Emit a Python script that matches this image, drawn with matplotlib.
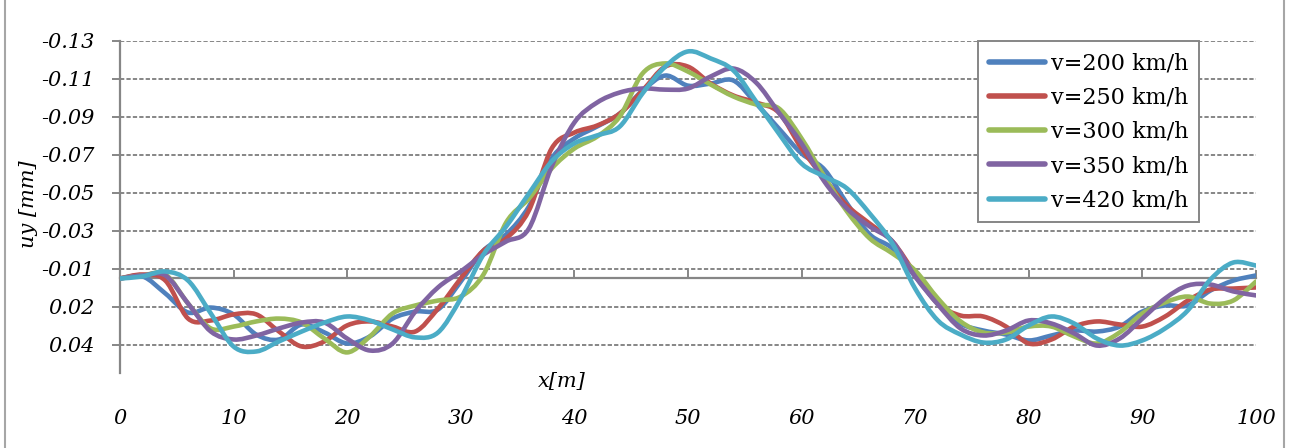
import numpy as np
import matplotlib
matplotlib.use("Agg")
import matplotlib.pyplot as plt
from matplotlib.lines import Line2D
from matplotlib.path import Path
from matplotlib.patches import PathPatch

# x positions along the track [m]
x = np.arange(0, 101, 2)

# vertical displacement uy [mm]
uy_200 = [0.0, -0.0011, 0.0079, 0.0179, 0.0153, 0.0189, 0.0295, 0.0321, 0.0242, 0.0284,
          0.0342, 0.0305, 0.0211, 0.0174, 0.0163, 0.0016, -0.0147, -0.0232, -0.0379, -0.0632,
          -0.0737, -0.0800, -0.0868, -0.0989, -0.1068, -0.1015, -0.1026, -0.1042, -0.0921, -0.0789,
          -0.0658, -0.0574, -0.0395, -0.0232, -0.0158, -0.0011, 0.0132, 0.0237, 0.0274, 0.0295,
          0.0326, 0.0300, 0.0274, 0.0279, 0.0253, 0.0174, 0.0142, 0.0142, 0.0063, 0.0011, -0.0016]
uy_250 = [0.0, -0.0021, 0.0011, 0.0211, 0.0221, 0.0189, 0.0189, 0.0279, 0.0358, 0.0331,
          0.0247, 0.0226, 0.0253, 0.0279, 0.0158, 0.0, -0.0147, -0.0211, -0.0358, -0.0684,
          -0.0768, -0.0805, -0.0868, -0.0989, -0.1115, -0.1115, -0.1026, -0.0963, -0.0926, -0.0873,
          -0.0684, -0.0526, -0.0384, -0.0289, -0.0195, -0.0026, 0.0132, 0.0195, 0.0200, 0.0253,
          0.0342, 0.0321, 0.0253, 0.0226, 0.0242, 0.0253, 0.0200, 0.0116, 0.0058, 0.0053, 0.0047]
uy_300 = [0.0, -0.0016, -0.0021, 0.0132, 0.0263, 0.0253, 0.0226, 0.0211, 0.0232, 0.0316,
          0.0389, 0.0305, 0.0184, 0.0142, 0.0116, 0.0095, -0.0021, -0.0295, -0.0421, -0.0579,
          -0.0684, -0.0747, -0.0853, -0.1079, -0.1132, -0.1089, -0.1021, -0.0958, -0.0916, -0.0895,
          -0.0737, -0.0537, -0.0353, -0.0211, -0.0132, -0.0042, 0.0105, 0.0226, 0.0284, 0.0284,
          0.0253, 0.0253, 0.0305, 0.0342, 0.0284, 0.0184, 0.0126, 0.0095, 0.0132, 0.0116, 0.0016]
uy_350 = [0.0, -0.0016, -0.0016, 0.0132, 0.0279, 0.0321, 0.0300, 0.0263, 0.0232, 0.0232,
          0.0316, 0.0379, 0.0342, 0.0174, 0.0047, -0.0037, -0.0126, -0.0195, -0.0263, -0.0589,
          -0.0821, -0.0926, -0.0979, -0.1000, -0.0994, -0.1000, -0.1063, -0.1105, -0.1031, -0.0873,
          -0.0711, -0.0511, -0.0368, -0.0274, -0.0195, -0.0011, 0.0137, 0.0263, 0.0300, 0.0274,
          0.0221, 0.0237, 0.0289, 0.0353, 0.0316, 0.0211, 0.0105, 0.0037, 0.0032, 0.0068, 0.0089]
uy_420 = [0.0, -0.0011, -0.0037, 0.0011, 0.0184, 0.0358, 0.0384, 0.0331, 0.0279, 0.0232,
          0.0200, 0.0221, 0.0268, 0.0310, 0.0284, 0.0105, -0.0126, -0.0274, -0.0447, -0.0616,
          -0.0711, -0.0753, -0.0800, -0.0974, -0.1115, -0.1195, -0.1158, -0.1095, -0.0931, -0.0763,
          -0.0605, -0.0537, -0.0474, -0.0342, -0.0184, 0.0053, 0.0221, 0.0295, 0.0337, 0.0321,
          0.0247, 0.0200, 0.0237, 0.0316, 0.0353, 0.0326, 0.0263, 0.0168, 0.0005, -0.0084, -0.0068]

series = [uy_200, uy_250, uy_300, uy_350, uy_420]
labels = ["v=200 km/h", "v=250 km/h", "v=300 km/h", "v=350 km/h", "v=420 km/h"]
colors = ["#4F81BD", "#C0504D", "#9BBB59", "#8064A2", "#4BACC6"]

y_ticks = [-0.125, -0.105, -0.085, -0.065, -0.045, -0.025, -0.005, 0.015, 0.035]
y_ticklabels = ["-0.13", "-0.11", "-0.09", "-0.07", "-0.05", "-0.03", "-0.01", "0.02", "0.04"]
x_ticks = [0, 10, 20, 30, 40, 50, 60, 70, 80, 90, 100]

grey = "#868686"
plt.rcParams["font.family"] = "DejaVu Serif"


def smooth_path(xs, ys):
    # Excel style smoothed line: bezier segments through the data points
    p = np.column_stack([xs, ys]).astype(float)
    pp = np.vstack([p[0], p, p[-1]])
    verts = [p[0]]
    codes = [Path.MOVETO]
    for i in range(len(p) - 1):
        c1 = pp[i + 1] + (pp[i + 2] - pp[i]) / 6
        c2 = pp[i + 2] - (pp[i + 3] - pp[i + 1]) / 6
        verts += [c1, c2, p[i + 1]]
        codes += [Path.CURVE4] * 3
    return Path(verts, codes)


fig = plt.figure(figsize=(12.94, 4.48), dpi=100)
ax = fig.add_axes([0.0927, 0.1663, 0.8779, 0.7422])

# dashed horizontal gridlines
for yt in y_ticks:
    ax.axhline(yt, color=grey, lw=1.4, ls=(0, (2.2, 1.1)), zorder=1)

handles = []
for vals, lab, col in zip(series, labels, colors):
    ax.add_patch(PathPatch(smooth_path(x, vals), facecolor="none", edgecolor=col,
                           lw=3.3, joinstyle="round", capstyle="round", zorder=3))
    handles.append(Line2D([], [], color=col, lw=4, solid_capstyle="round", label=lab))

ax.set_xlim(0, 100)
ax.set_ylim(0.05, -0.125)

# axes styling
for s in ["top", "right"]:
    ax.spines[s].set_visible(False)
ax.spines["left"].set_color(grey)
ax.spines["left"].set_linewidth(1.6)
ax.spines["bottom"].set_color(grey)
ax.spines["bottom"].set_linewidth(1.6)
ax.spines["bottom"].set_position(("data", 0))
ax.spines["bottom"].set_zorder(2)

ax.set_yticks(y_ticks)
ax.set_yticklabels(y_ticklabels, fontsize=15, style="italic")
ax.tick_params(axis="y", direction="out", length=6, width=1.4, color=grey, pad=12)

ax.set_xticks(x_ticks)
ax.set_xticklabels([])
ax.tick_params(axis="x", direction="in", length=6, width=1.4, color=grey)
for xt in x_ticks:
    ax.text(xt, -0.134, str(xt), transform=ax.get_xaxis_transform(),
            ha="center", va="center", fontsize=15, style="italic")

ax.text(0.389, -0.025, "x[m]", transform=ax.transAxes, ha="center", va="center",
        fontsize=15, style="italic")
fig.text(0.022, 0.545, "uy [mm]", rotation=90, ha="center", va="center",
         fontsize=15, style="italic")

leg = ax.legend(handles=handles, loc="upper right", bbox_to_anchor=(0.95, 0.999),
                borderaxespad=0, fontsize=16, handlelength=2.5, handletextpad=0.25,
                labelspacing=0.55, borderpad=0.5, fancybox=False, framealpha=1)
leg.get_frame().set_edgecolor(grey)
leg.get_frame().set_linewidth(1.4)

# outer chart border
fig.add_artist(Line2D([0.004, 0.004], [0, 1], color="#a6a6a6", lw=1.5, transform=fig.transFigure))
fig.add_artist(Line2D([0.9925, 0.9925], [0, 1], color="#a6a6a6", lw=1.5, transform=fig.transFigure))

fig.savefig("out.png", dpi=100)
